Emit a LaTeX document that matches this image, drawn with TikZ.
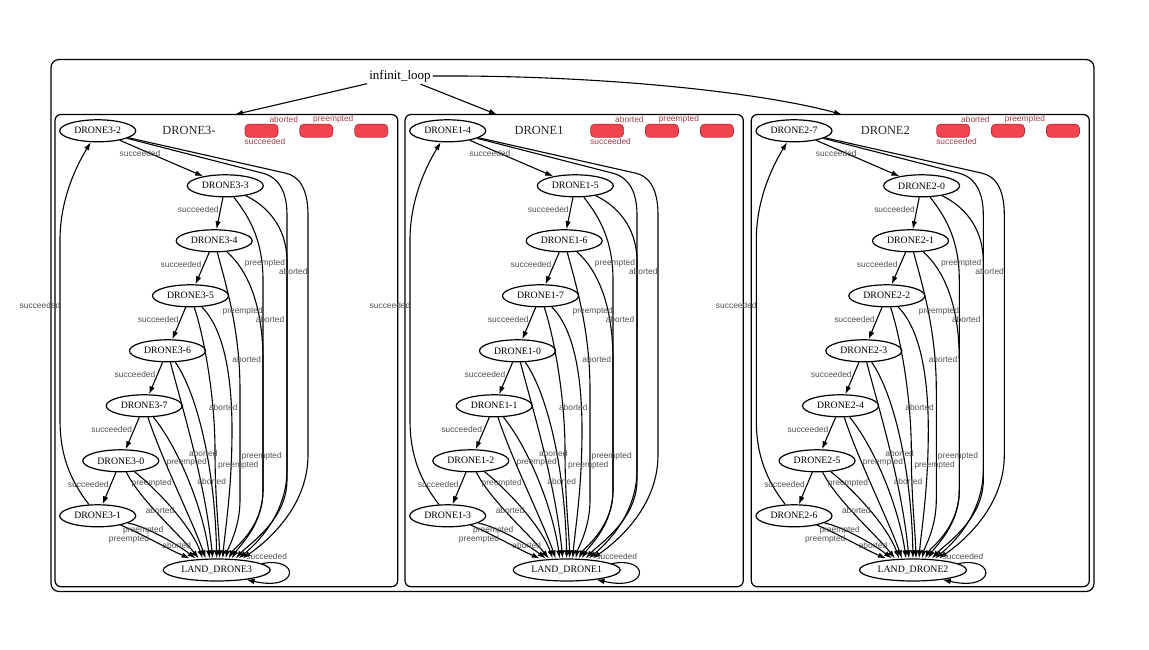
\documentclass[tikz,border=0pt]{standalone}
\usepackage{fontspec}
\setmainfont{Liberation Serif}
\newfontfamily\lblfont{Liberation Sans}
\usepackage{tikz}
\usetikzlibrary{arrows.meta,shapes.geometric}
\definecolor{grisL}{HTML}{505050}
\definecolor{rougeF}{HTML}{F2444E}
\definecolor{rougeB}{HTML}{B5303A}
\definecolor{rougeT}{HTML}{A0404A}
\tikzset{
  etat/.style={ellipse, draw, line width=1.2pt, inner sep=0pt,
               minimum width=76pt, minimum height=22pt, font=\fontsize{9.8}{11}\selectfont},
  atterr/.style={etat, minimum width=107pt},
  racine/.style={inner sep=2pt, font=\fontsize{13}{15}\selectfont},
  titre/.style={inner sep=0pt, text=black!85, font=\fontsize{12.4}{14}\selectfont},
  issue/.style={rectangle, rounded corners=4pt, draw=rougeB, line width=0.7pt, fill=rougeF,
                minimum width=33pt, minimum height=13pt, inner sep=0pt},
  lbl/.style={inner sep=0pt, text=grisL, font=\lblfont\fontsize{8.4}{9}\selectfont},
  lblr/.style={lbl, text=rougeT},
  grappe/.style={rounded corners=6pt, line width=1.2pt},
  arr/.style={-{Latex[length=8pt,width=5.5pt]}, line width=1.1pt},
}

\begin{document}
\begin{tikzpicture}[x=1pt, y=-1pt]
  \useasboundingbox (0,0) rectangle (1149,650);
  \draw[grappe, rounded corners=8pt] (51,59.5) rectangle (1094,591.5);
  \node[racine] (boucle) at (400,76) {infinit\_loop};

  \foreach \dx/\c/\titre/\w/\dep in {0/3/DRONE3-/397.7/2, 350/1/DRONE1/393.3/4, 696.3/2/DRONE2/393/7} {
    \begin{scope}[xshift=\dx pt]
      \draw[grappe] (55,114.5) rectangle (\w,586.7);
      \node[titre] (g\c) at (189,130.5) {\titre};
      \node[issue] (r\c-1) at (\w-136.2,130.7) {};
      \node[issue] (r\c-2) at (\w-81.4,130.7) {};
      \node[issue] (r\c-3) at (\w-26.4,130.7) {};
      \node[lblr] (ra\c) at (\w-113.9,119.3) {aborted};
      \node[lblr] (rp\c) at (\w-64.4,119.3) {preempted};
      \node[lblr] (rs\c) at (\w-132.7,141) {succeeded};

      \foreach \px/\py [count=\i from 0] in {97.7/130.8, 225.3/185.8, 214.2/240.8, 190.5/295.8,
                                              167.5/350.8, 144.2/405.8, 120.8/460.8, 97.7/515.8} {
        \pgfmathtruncatemacro\k{mod(\dep+\i,8)}
        \node[etat] (d\c-\i) at (\px,\py) {DRONE\c-\k};
      }
      \node[atterr] (t\c) at (216.7,570) {LAND\_DRONE\c};

      \foreach \i in {0,...,6} {
        \pgfmathtruncatemacro\j{\i+1}
        \draw[arr] (d\c-\i) -- (d\c-\j);
      }
      \draw[arr] (d\c-7) .. controls (70,480) and (60,455) .. (60,420) -- (60,240)
                 .. controls (60,195) and (80,160) .. (d\c-0);

      \draw[arr] (d\c-0) -- (262,173) .. controls (279,177) and (287,192) .. (287,215) -- (287,470)
                 .. controls (287,515) and (255,545) .. ([xshift=22pt]t\c.north);
      \draw[arr] (d\c-0) -- (285,173) .. controls (300,176) and (308,190) .. (308,215) -- (308,455)
                 .. controls (308,510) and (262,545) .. ([xshift=26pt]t\c.north);
      \draw[arr] (d\c-1) .. controls (245,212) and (263,235) .. (263,280) -- (263,490)
                 .. controls (263,525) and (240,545) .. ([xshift=15pt]t\c.north);
      \draw[arr] (d\c-1) .. controls (265,205) and (287,225) .. (287,262) -- (287,480)
                 .. controls (287,520) and (248,545) .. ([xshift=19pt]t\c.north);
      \draw[arr] (d\c-2) .. controls (226,285) and (240,330) .. (240,390) -- (240,500)
                 .. controls (240,528) and (228,548) .. ([xshift=9pt]t\c.north);
      \draw[arr] (d\c-2) .. controls (250,272) and (263,310) .. (263,360) -- (263,490)
                 .. controls (263,528) and (234,548) .. ([xshift=12pt]t\c.north);
      \draw[arr] (d\c-3) .. controls (205,340) and (215,400) .. (215,450)
                 .. controls (215,500) and (219,530) .. ([xshift=3pt]t\c.north);
      \draw[arr] (d\c-3) .. controls (225,330) and (232,380) .. (232,430)
                 .. controls (232,490) and (225,530) .. ([xshift=6pt]t\c.north);
      \draw[arr] (d\c-4) .. controls (180,400) and (205,480) .. ([xshift=-4pt]t\c.north);
      \draw[arr] (d\c-4) .. controls (198,395) and (215,470) .. (t\c.north);
      \draw[arr] (d\c-5) .. controls (162,460) and (192,520) .. ([xshift=-11pt]t\c.north);
      \draw[arr] (d\c-5) .. controls (180,450) and (203,510) .. ([xshift=-7pt]t\c.north);
      \draw[arr] (d\c-6) .. controls (140,500) and (180,535) .. ([xshift=-18pt]t\c.north);
      \draw[arr] (d\c-6) .. controls (160,492) and (192,528) .. ([xshift=-14pt]t\c.north);
      \draw[arr] (d\c-7) .. controls (140,533) and (170,550) .. ([xshift=-27pt]t\c.north);
      \draw[arr] (d\c-7) .. controls (150,528) and (178,545) .. ([xshift=-21pt]t\c.north);
      \draw[arr] (t\c.8) .. controls (300,556) and (300,592) .. (t\c.-18);

      \foreach \t/\lx/\ly [count=\n] in {succeeded/140/153.3, succeeded/198.3/209, succeeded/181/264,
          preempted/265/263.7, aborted/293.3/271.3, succeeded/158.3/319, preempted/242.7/311.7,
          aborted/270/319.3, aborted/246.7/359.3, succeeded/135/374, aborted/223.3/407.3,
          succeeded/111.7/429, aborted/203.3/453.3, preempted/186.7/462.7, preempted/261.7/456.7,
          preempted/238.3/465, succeeded/88.3/484, preempted/151.7/483.3, aborted/211.7/481,
          aborted/160/510, preempted/143.3/530, preempted/129/539.3, aborted/176.7/545,
          succeeded/266.7/556.7, succeeded/40/305}
        \node[lbl] (e\c-\n) at (\lx,\ly) {\t};
    \end{scope}
  }

  \coordinate (haut3) at (235,114.5);
  \coordinate (haut1) at (497,114.5);
  \coordinate (haut2) at (842,114.5);
  \draw[arr] (boucle) -- (haut3);
  \draw[arr] (boucle) -- (haut1);
  \draw[arr] (boucle.east) .. controls (600,75) and (760,92) .. (haut2);
\end{tikzpicture}
\end{document}
